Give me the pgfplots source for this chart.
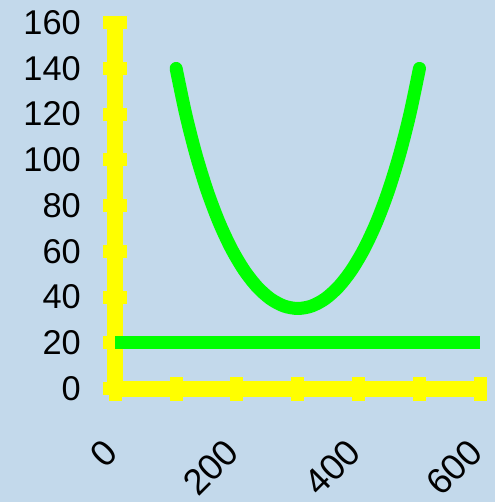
\documentclass[border=0pt]{standalone}
\usepackage{pgfplots}
\pgfplotsset{compat=1.18}
\usepackage{fontspec}
\setmainfont{Liberation Sans}
\usetikzlibrary{backgrounds}
\definecolor{bgblue}{RGB}{195,217,235}
\definecolor{ayellow}{RGB}{255,255,0}
\definecolor{lgreen}{RGB}{0,255,0}
\begin{document}
\begin{tikzpicture}
\begin{axis}[name=ax, scale only axis, width=365bp, height=365.8bp,
  xmin=0, xmax=600, ymin=0, ymax=160,
  axis lines=left,
  axis line style={-, draw=ayellow, line width=16bp},
  xtick={0,100,...,600}, xticklabels={0,,200,,400,,600},
  ytick={0,20,...,160},
  major tick length=24bp, tick align=center,
  tick style={draw=ayellow, line width=13bp},
  ticklabel style={font=\fontsize{34.5}{40}\selectfont, text=black},
  /pgf/number format/assume math mode=true,
  xticklabel style={font=\fontsize{36.5}{42}\selectfont, rotate=45, anchor=east, yshift=-29bp, xshift=-32bp},
  yticklabel style={xshift=-19bp},
  clip=false]
\addplot[draw=lgreen, line width=13bp, line cap=butt] coordinates {(0,20) (600,20)};
\addplot[draw=lgreen, line width=13bp, line cap=round, line join=round, smooth] coordinates {
(100,140) (115.725,120.05) (132.8,102.2) (151.075,86.45) (170.4,72.8)
(190.625,61.25) (211.6,51.8) (233.175,44.45) (255.2,39.2) (277.525,36.05)
(300,35) (322.475,36.05) (344.8,39.2) (366.825,44.45) (388.4,51.8)
(409.375,61.25) (429.6,72.8) (448.925,86.45) (467.2,102.2) (484.275,120.05)
(500,140)};
\end{axis}
\begin{scope}[on background layer]
\fill[bgblue] ([xshift=-115.3bp,yshift=-113.5bp]ax.south west) rectangle ++(495bp,502bp);
\end{scope}
\pgfresetboundingbox
\path ([xshift=-115.3bp,yshift=-113.5bp]ax.south west) rectangle ++(495bp,502bp);
\end{tikzpicture}
\end{document}
